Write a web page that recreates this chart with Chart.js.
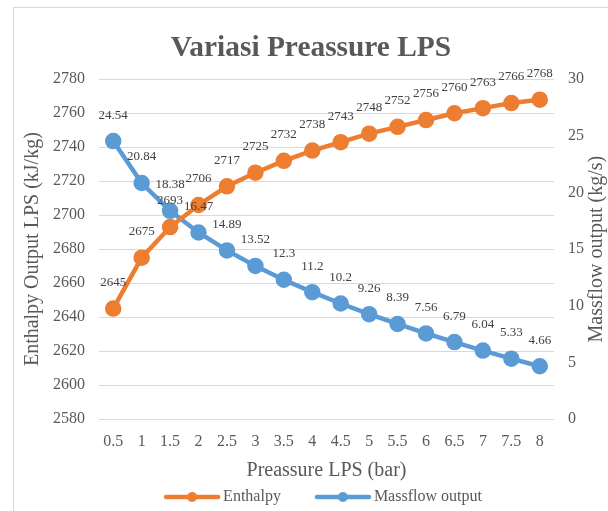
<!DOCTYPE html>
<html>
<head>
<meta charset="utf-8">
<script src="https://cdn.jsdelivr.net/npm/chart.js@4"></script>
<style>
  html, body { margin: 0; padding: 0; background: #fff; overflow: hidden; }
  canvas { display: block; }
</style>
</head>
<body>
<canvas id="chart" width="608" height="511"></canvas>
<script>
// ===== data =====
const pressures = ['0.5', '1', '1.5', '2', '2.5', '3', '3.5', '4', '4.5', '5', '5.5', '6', '6.5', '7', '7.5', '8'];
const enthalpy = [2645, 2675, 2693, 2706, 2717, 2725, 2732, 2738, 2743, 2748, 2752, 2756, 2760, 2763, 2766, 2768];
const massflow = [24.54, 20.84, 18.38, 16.47, 14.89, 13.52, 12.3, 11.2, 10.2, 9.26, 8.39, 7.56, 6.79, 6.04, 5.33, 4.66];

const COLORS = {
  orange: '#ED7D31',
  blue: '#5B9BD5',
  text: '#595959',
  label: '#404040',
  grid: '#d9d9d9',
};
const FONT = "'Liberation Serif', 'Times New Roman', serif";

// legend marker: line with a dot; empty left part gives the item spacing,
// the image is a bit wider than its box so the line runs close to the text
function legendMarker(color) {
  const c = document.createElement('canvas');
  c.width = 87; c.height = 14;
  const g = c.getContext('2d');
  g.strokeStyle = color;
  g.lineWidth = 4.5;
  g.lineCap = 'round';
  g.beginPath(); g.moveTo(32, 7); g.lineTo(84, 7); g.stroke();
  g.fillStyle = color;
  g.beginPath(); g.arc(58, 7, 5, 0, Math.PI * 2); g.fill();
  return c;
}
const markers = [legendMarker(COLORS.orange), legendMarker(COLORS.blue)];

// frame round the chart
const framePlugin = {
  id: 'frame',
  beforeDraw(chart) {
    const ctx = chart.ctx;
    ctx.save();
    ctx.fillStyle = '#fff';
    ctx.fillRect(0, 0, chart.width, chart.height);
    ctx.strokeStyle = COLORS.grid;
    ctx.lineWidth = 1;
    ctx.strokeRect(13.5, 7.5, 700, 600);
    ctx.restore();
  }
};

// value labels above every point
const valueLabels = {
  id: 'valueLabels',
  afterDatasetsDraw(chart) {
    const ctx = chart.ctx;
    ctx.save();
    ctx.font = `13px ${FONT}`;
    ctx.fillStyle = COLORS.label;
    ctx.textAlign = 'center';
    ctx.textBaseline = 'middle';
    chart.data.datasets.forEach((ds, i) => {
      chart.getDatasetMeta(i).data.forEach((pt, j) => {
        ctx.fillText(String(ds.data[j]), pt.x, pt.y - 26);
      });
    });
    ctx.restore();
  }
};

// right axis title reads bottom to top, like the left one
const rightTitle = {
  id: 'rightTitle',
  afterDraw(chart) {
    const ctx = chart.ctx;
    const area = chart.chartArea;
    ctx.save();
    ctx.translate(597, (area.top + area.bottom) / 2);
    ctx.rotate(-Math.PI / 2);
    ctx.font = `20px ${FONT}`;
    ctx.fillStyle = COLORS.text;
    ctx.textAlign = 'center';
    ctx.textBaseline = 'middle';
    ctx.fillText('Massflow output (kg/s)', 0, 0);
    ctx.restore();
  }
};

const tickFont = { family: FONT, size: 16 };

new Chart(document.getElementById('chart'), {
  type: 'line',
  data: {
    labels: pressures,
    datasets: [{
      label: 'Enthalpy',
      data: enthalpy,
      yAxisID: 'y',
      borderColor: COLORS.orange,
      backgroundColor: COLORS.orange,
      borderWidth: 4.5,
      pointRadius: 6,
      pointHoverRadius: 6,
      tension: 0,
    }, {
      label: 'Massflow output',
      data: massflow,
      yAxisID: 'y1',
      borderColor: COLORS.blue,
      backgroundColor: COLORS.blue,
      borderWidth: 4.5,
      pointRadius: 6,
      pointHoverRadius: 6,
      tension: 0,
    }]
  },
  options: {
    responsive: false,
    animation: false,
    devicePixelRatio: 1,
    layout: { padding: { left: 14, right: 0, top: 7, bottom: -4 } },
    plugins: {
      title: {
        display: true,
        text: 'Variasi Preassure LPS',
        color: COLORS.text,
        font: { family: FONT, size: 29.4, weight: 'bold' },
        padding: { top: 23.5, bottom: 13.5 },
      },
      legend: {
        position: 'bottom',
        labels: {
          usePointStyle: true,
          pointStyleWidth: 75,
          padding: 10,
          color: COLORS.text,
          font: { family: FONT, size: 16 },
          generateLabels(chart) {
            const items = Chart.defaults.plugins.legend.labels.generateLabels(chart);
            items.forEach(it => { it.pointStyle = markers[it.datasetIndex]; });
            return items;
          }
        }
      },
      tooltip: { enabled: false },
    },
    scales: {
      x: {
        offset: true,
        grid: { display: false, drawTicks: false },
        border: { display: false },
        ticks: { color: COLORS.text, font: tickFont, padding: 13, maxRotation: 0, autoSkip: false },
        title: {
          display: true,
          text: 'Preassure LPS (bar)',
          color: COLORS.text,
          font: { family: FONT, size: 20 },
          padding: { top: 0, bottom: -4 },
        },
        afterFit(scale) { scale.height = 60; },
      },
      y: {
        position: 'left',
        min: 2580,
        max: 2780,
        ticks: { stepSize: 20, color: COLORS.text, font: tickFont, padding: 14, callback: v => String(v) },
        grid: { color: COLORS.grid, drawTicks: false },
        border: { display: false },
        title: {
          display: true,
          text: 'Enthalpy Output LPS (kJ/kg)',
          color: COLORS.text,
          font: { family: FONT, size: 20 },
          padding: { top: 7, bottom: 0 },
        },
        afterFit(scale) { scale.width = 85; },
      },
      y1: {
        position: 'right',
        min: 0,
        max: 30,
        ticks: { stepSize: 5, color: COLORS.text, font: tickFont, padding: 14, callback: v => String(v) },
        grid: { display: false, drawTicks: false },
        border: { display: false },
        afterFit(scale) { scale.width = 54; },
      }
    }
  },
  plugins: [framePlugin, valueLabels, rightTitle]
});
</script>
</body>
</html>
